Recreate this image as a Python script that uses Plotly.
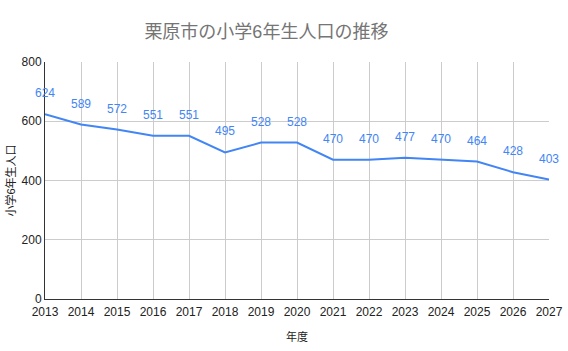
import plotly.graph_objects as go

years = list(range(2013, 2028))
values = [624, 589, 572, 551, 551, 495, 528, 528, 470, 470, 477, 470, 464, 428, 403]
yticks = [0, 200, 400, 600, 800]

FONT = "Arial, 'Liberation Sans', 'Noto Sans CJK JP', sans-serif"
BLUE = "#4285F4"

fig = go.Figure()
fig.add_trace(go.Scatter(x=years, y=values, mode="lines",
                         line=dict(color=BLUE, width=2), hoverinfo="x+y"))

for x, y in zip(years, values):
    fig.add_annotation(x=x, y=y, text=str(y), showarrow=False, yshift=21,
                       yanchor="middle", font=dict(color=BLUE, size=12, family=FONT))

fig.update_layout(
    width=568, height=351,
    margin=dict(l=45, r=19, t=62, b=52),
    paper_bgcolor="white", plot_bgcolor="white",
    font=dict(family=FONT, color="#222222", size=12),
    showlegend=False,
    title=dict(text="栗原市の小学6年生人口の推移", x=0.469, xref="container", xanchor="center",
               y=1 - 32 / 351, yref="container", yanchor="middle",
               font=dict(size=18, color="#757575", family=FONT)),
)
fig.update_xaxes(range=[2013, 2027], tickmode="array", tickvals=years,
                 ticktext=[str(y) for y in years], showgrid=True, gridcolor="#cccccc",
                 showline=True, linecolor="#333333", linewidth=1, ticks="", zeroline=False,
                 automargin=False, ticklabelstandoff=2,
                 title=dict(text="年度", font=dict(size=11, color="#222222"), standoff=14),
                 tickfont=dict(size=12, color="#222222"))
fig.update_yaxes(range=[0, 800], tickmode="array", tickvals=yticks, showgrid=True,
                 gridcolor="#cccccc", showline=True, linecolor="#333333", linewidth=1,
                 zeroline=False, ticks="", automargin=True,
                 title=dict(text="小学6年生人口", font=dict(size=11, color="#222222"), standoff=3),
                 tickfont=dict(size=12, color="#222222"))

fig.write_html("out.html")
